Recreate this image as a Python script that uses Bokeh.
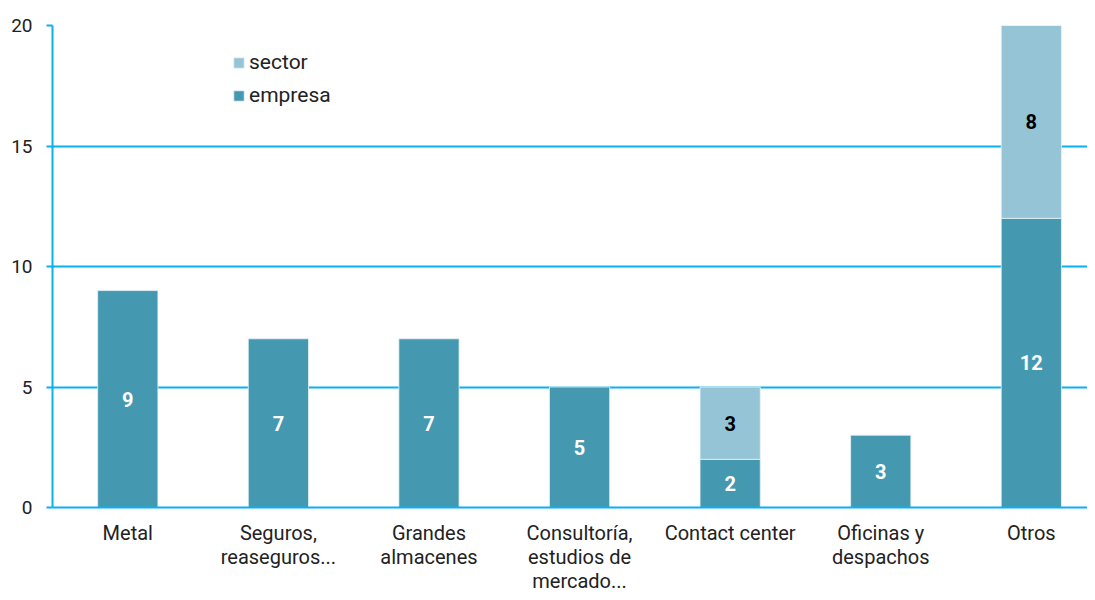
from bokeh.plotting import figure
from bokeh.layouts import column
from bokeh.models import Range1d, FixedTicker, ColumnDataSource, Legend, LegendItem
from bokeh.core.properties import value
from bokeh.embed import file_html
from bokeh.resources import INLINE

categories = ["Metal", "Seguros,\nreaseguros...", "Grandes\nalmacenes",
              "Consultoría,\nestudios de\nmercado...", "Contact center",
              "Oficinas y\ndespachos", "Otros"]
empresa = [9, 7, 7, 5, 2, 3, 12]
sector = [0, 0, 0, 0, 3, 0, 8]
y_ticks = [0, 5, 10, 15, 20]

C_EMP = "#4498B0"
C_SEC = "#94C4D5"
C_GRID = "#0BB0EE"
FONT = "Roboto"

xs = [i + 0.5 for i in range(len(categories))]
bottoms_sec = list(empresa)
tops_sec = [e + s for e, s in zip(empresa, sector)]

xr = Range1d(0, 6.873)
p = figure(width=1087, height=519, output_backend="svg", toolbar_location=None,
           x_range=xr, y_range=Range1d(0, 20),
           min_border_left=52, min_border_right=0, min_border_top=25, min_border_bottom=12)
p.outline_line_color = None
p.background_fill_color = "white"

src = ColumnDataSource(dict(x=xs, emp=empresa))
r_emp = p.vbar(x="x", top="emp", bottom=0, width=0.4, source=src,
               fill_color=C_EMP, line_color="#e6f2f5", line_width=0.8)
sec_idx = [i for i, s in enumerate(sector) if s > 0]
src2 = ColumnDataSource(dict(x=[xs[i] for i in sec_idx], b=[bottoms_sec[i] for i in sec_idx],
                             t=[tops_sec[i] for i in sec_idx]))
r_sec = p.vbar(x="x", top="t", bottom="b", width=0.4, source=src2,
               fill_color=C_SEC, line_color="#e6f2f5", line_width=0.8)

# value labels
lab_emp = ColumnDataSource(dict(x=xs, y=[e / 2 for e in empresa], t=[str(e) for e in empresa]))
p.text(x="x", y="y", text="t", source=lab_emp, text_align="center", text_baseline="middle",
       text_color="white", text_font=value(FONT), text_font_style="bold", text_font_size="20px")
lab_sec = ColumnDataSource(dict(x=[xs[i] for i in sec_idx],
                                y=[empresa[i] + sector[i] / 2 for i in sec_idx],
                                t=[str(sector[i]) for i in sec_idx]))
p.text(x="x", y="y", text="t", source=lab_sec, text_align="center", text_baseline="middle",
       text_color="black", text_font=value(FONT), text_font_style="bold", text_font_size="20px")

# grid
p.xgrid.visible = False
p.ygrid.ticker = FixedTicker(ticks=y_ticks)
p.ygrid.grid_line_color = C_GRID
p.ygrid.grid_line_width = 2

# y axis
p.yaxis.ticker = FixedTicker(ticks=y_ticks)
p.yaxis.axis_line_color = C_GRID
p.yaxis.axis_line_width = 2
p.yaxis.major_tick_line_color = C_GRID
p.yaxis.major_tick_line_width = 2
p.yaxis.major_tick_out = 6
p.yaxis.major_tick_in = 0
p.yaxis.minor_tick_line_color = None
p.yaxis.major_label_standoff = 14
p.yaxis.major_label_text_font = FONT
p.yaxis.major_label_text_font_size = "19px"
p.yaxis.major_label_text_color = "#222222"

# x axis: only the baseline
p.xaxis.ticker = FixedTicker(ticks=[])
p.xaxis.axis_line_color = C_GRID
p.xaxis.axis_line_width = 2
p.xaxis.major_tick_out = 0
p.xaxis.major_tick_in = 0
p.xaxis.minor_tick_out = 0
p.xaxis.minor_tick_in = 0
p.xaxis.major_label_standoff = 0
p.xaxis.major_label_text_font_size = "0px"

legend = Legend(items=[LegendItem(label="sector", renderers=[r_sec]),
                       LegendItem(label="empresa", renderers=[r_emp])],
                location=(180, 400), border_line_color=None, background_fill_alpha=0,
                label_text_font=FONT, label_text_font_size="21px", label_text_color="#222222",
                glyph_width=13, glyph_height=13, spacing=9, padding=0, label_standoff=4)
p.add_layout(legend)

# category labels strip under the chart, sharing the x scale
q = figure(width=1087, height=73, output_backend="svg", toolbar_location=None,
           x_range=xr, y_range=Range1d(73, 0),
           min_border_left=52, min_border_right=0, min_border_top=0, min_border_bottom=0)
q.axis.visible = False
q.grid.visible = False
q.outline_line_color = None
cat_src = ColumnDataSource(dict(x=xs, y=[1] * len(xs), t=categories))
q.text(x="x", y="y", text="t", source=cat_src, text_align="center", text_baseline="top",
       text_font=value(FONT), text_font_size="20px", text_color="#222222", text_line_height=1.0)

open("out.html", "w").write(file_html(column(p, q, spacing=0), INLINE))
